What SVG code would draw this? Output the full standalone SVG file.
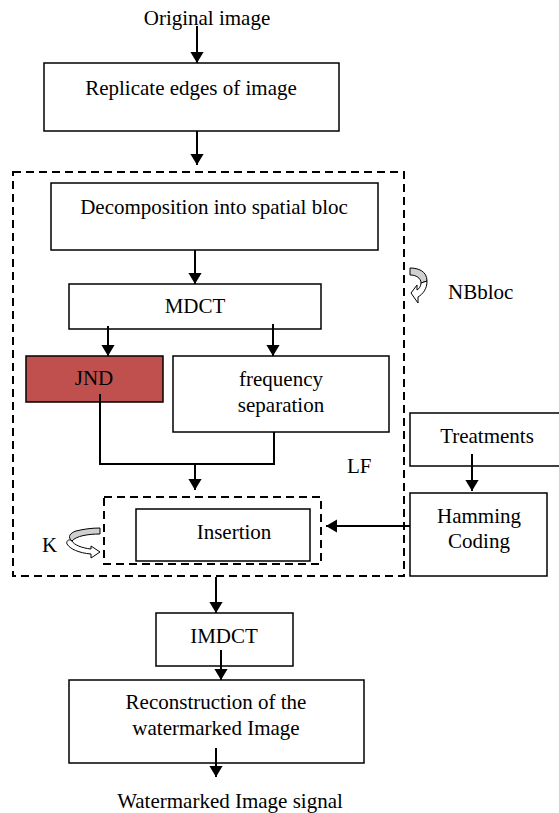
<svg xmlns="http://www.w3.org/2000/svg" width="559" height="813" viewBox="0 0 559 813">
  <style>
    .box { fill: #ffffff; stroke: #000000; stroke-width: 1.5; }
    .jnd { fill: #c0504d; stroke: #000000; stroke-width: 1.5; }
    .dash { fill: none; stroke: #000000; stroke-width: 2; stroke-dasharray: 8 5; }
    .lbl { font-family: "Liberation Serif", "Times New Roman", serif; font-size: 21px; fill: #000000; }
    .mid { text-anchor: middle; }
    .wire { fill: none; stroke: #000000; stroke-width: 2; }
    .arr { fill: none; stroke: #000000; stroke-width: 2; marker-end: url(#head); }
    .loop { stroke: #000000; stroke-width: 1; stroke-linejoin: miter; }
  </style>
  <defs>
    <marker id="head" viewBox="0 0 10 12" refX="10" refY="6" markerWidth="5.5" markerHeight="6.6" orient="auto" markerUnits="strokeWidth">
      <path d="M0,0 L10,6 L0,12 Z" fill="#000000"/>
    </marker>
  </defs>

  <rect width="559" height="813" fill="#ffffff"/>

  <!-- loop frames -->
  <g id="block-loop">
    <rect class="dash" x="13" y="172" width="391" height="404"/>
  </g>
  <g id="k-loop">
    <rect class="dash" x="104" y="497" width="217" height="67"/>
  </g>

  <!-- process nodes -->
  <g id="input">
    <text class="lbl mid" x="207" y="25">Original image</text>
  </g>
  <g id="replicate">
    <rect class="box" x="44" y="63" width="295" height="68"/>
    <text class="lbl mid" x="191" y="95">Replicate edges of image</text>
  </g>
  <g id="decomposition">
    <rect class="box" x="51" y="183" width="327" height="67"/>
    <text class="lbl mid" x="214" y="214">Decomposition into spatial bloc</text>
  </g>
  <g id="mdct">
    <rect class="box" x="69" y="284" width="252" height="45"/>
    <text class="lbl mid" x="195" y="313">MDCT</text>
  </g>
  <g id="jnd">
    <rect class="jnd" x="26" y="356" width="137" height="46"/>
    <text class="lbl mid" x="94" y="385">JND</text>
  </g>
  <g id="frequency">
    <rect class="box" x="173" y="356" width="216" height="76"/>
    <text class="lbl mid" x="281" y="386">frequency</text>
    <text class="lbl mid" x="281" y="412">separation</text>
  </g>
  <g id="insertion">
    <rect class="box" x="136" y="509" width="174" height="52"/>
    <text class="lbl mid" x="234" y="539">Insertion</text>
  </g>
  <g id="treatments">
    <rect class="box" x="410" y="413" width="152" height="53"/>
    <text class="lbl mid" x="487" y="443">Treatments</text>
  </g>
  <g id="hamming">
    <rect class="box" x="410" y="493" width="137" height="83"/>
    <text class="lbl mid" x="479" y="523">Hamming</text>
    <text class="lbl mid" x="479" y="548">Coding</text>
  </g>
  <g id="imdct">
    <rect class="box" x="156" y="613" width="137" height="53"/>
    <text class="lbl mid" x="224" y="643">IMDCT</text>
  </g>
  <g id="reconstruction">
    <rect class="box" x="69" y="680" width="295" height="83"/>
    <text class="lbl mid" x="216" y="709">Reconstruction of the</text>
    <text class="lbl mid" x="216" y="735">watermarked Image</text>
  </g>
  <g id="output">
    <text class="lbl mid" x="230" y="808">Watermarked Image signal</text>
  </g>

  <!-- loop labels with their curved arrows -->
  <g id="nbbloc">
    <path class="loop" fill="#d0d0d0" d="M410,268 C418,268 427,271 427,281 L421,283 C421,278 416,275 410,275 Z"/>
    <path class="loop" fill="#ffffff" d="M427,281 C427,289 423,294 418,297 L418,303 L411,293 L417,285 L417,290 C419,289 421,286 421,283 Z"/>
    <text class="lbl" x="448" y="299">NBbloc</text>
  </g>
  <g id="k-label">
    <path class="loop" fill="#d0d0d0" d="M100,528 L100,534 C88,534 76,536 72,541 C67,537 70,533 76,531 C84,529 92,528 100,528 Z"/>
    <path class="loop" fill="#ffffff" d="M72,541 C74,545 82,548 91,549 L91,546 L100,552 L91,558 L91,554 C79,553 70,549 67,544 C66,542 68,538 72,541 Z"/>
    <text class="lbl" x="42" y="552">K</text>
  </g>
  <g id="lf-label">
    <text class="lbl" x="347" y="473">LF</text>
  </g>

  <!-- connectors -->
  <g id="connectors">
    <path class="arr" d="M197,26 V63"/>
    <path class="arr" d="M197,131 V165"/>
    <path class="arr" d="M195,250 V284"/>
    <path class="arr" d="M108,326 V356"/>
    <path class="arr" d="M273,324 V356"/>
    <path class="wire" d="M100,394 V464 H274 V432"/>
    <path class="arr" d="M195,464 V490"/>
    <path class="arr" d="M472,454 V491"/>
    <path class="arr" d="M410,526 H326"/>
    <path class="arr" d="M216,577 V613"/>
    <path class="arr" d="M221,650 V680"/>
    <path class="arr" d="M216,748 V777"/>
  </g>
</svg>
